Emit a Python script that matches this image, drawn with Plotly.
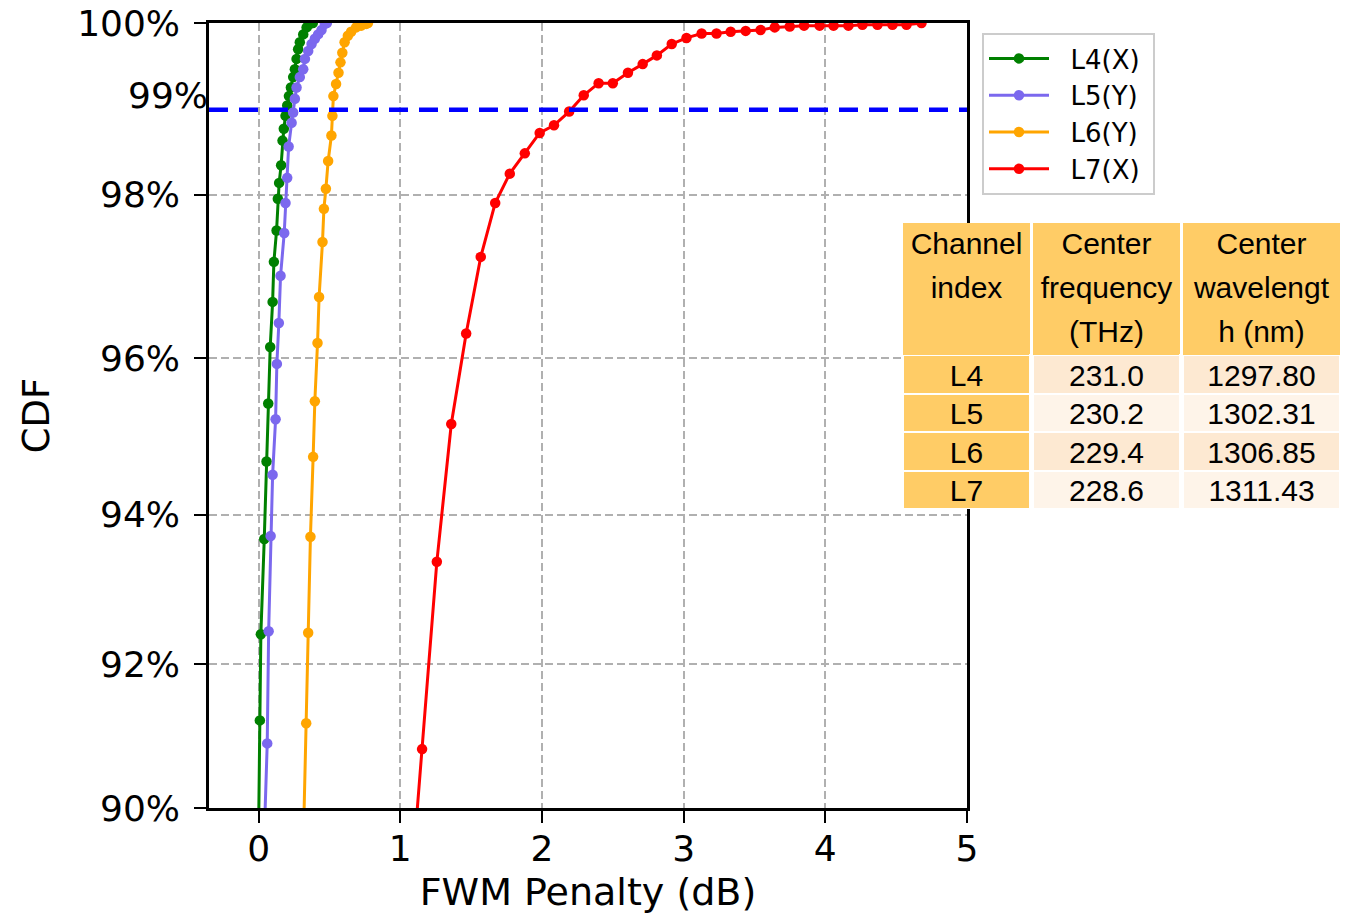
import math
import plotly.graph_objects as go

# ---------------- data ----------------
L4_x = [0.000, 0.009, 0.016, 0.040, 0.056, 0.068, 0.082, 0.099, 0.108, 0.127, 0.136, 0.145, 0.159, 0.169,
        0.178, 0.190, 0.202, 0.214, 0.228, 0.244, 0.256, 0.268, 0.279, 0.291, 0.315, 0.339, 0.362, 0.383]
L4_cdf = [89.68, 91.23, 92.41, 93.68, 94.69, 95.43, 96.14, 96.70, 97.19, 97.57, 97.95, 98.14, 98.35, 98.64,
          98.78, 98.93, 99.05, 99.16, 99.26, 99.38, 99.47, 99.59, 99.70, 99.78, 99.87, 99.95, 99.99, 100.0]

L5_x = [0.037, 0.061, 0.071, 0.085, 0.099, 0.120, 0.129, 0.143, 0.155, 0.181, 0.190, 0.202, 0.212, 0.233,
        0.244, 0.256, 0.268, 0.291, 0.315, 0.327, 0.350, 0.374, 0.397, 0.420, 0.444, 0.468, 0.482]
L5_cdf = [89.39, 90.91, 92.45, 93.72, 94.52, 95.23, 95.93, 96.44, 97.02, 97.54, 97.90, 98.20, 98.57, 98.85,
          98.97, 99.13, 99.26, 99.38, 99.47, 99.59, 99.68, 99.76, 99.82, 99.87, 99.92, 99.99, 100.0]

L6_x = [0.318, 0.336, 0.350, 0.366, 0.385, 0.397, 0.416, 0.427, 0.451, 0.461, 0.475, 0.491, 0.514, 0.521,
        0.528, 0.547, 0.564, 0.578, 0.591, 0.607, 0.630, 0.653, 0.688, 0.724, 0.759, 0.772]
L6_cdf = [89.68, 91.19, 92.43, 93.71, 94.75, 95.46, 96.19, 96.76, 97.43, 97.83, 98.07, 98.40, 98.70, 98.93,
          99.16, 99.30, 99.43, 99.55, 99.66, 99.78, 99.855, 99.90, 99.95, 99.97, 99.99, 100.0]

L7_x = [1.048, 1.154, 1.258, 1.360, 1.465, 1.568, 1.670, 1.773, 1.879, 1.984, 2.085, 2.192, 2.295, 2.400,
        2.500, 2.607, 2.711, 2.811, 2.916, 3.020, 3.127, 3.232, 3.332, 3.438, 3.543, 3.643, 3.749, 3.850,
        3.960, 4.058, 4.163, 4.262, 4.368, 4.474, 4.573, 4.679]
L7_cdf = [88.12, 90.83, 93.38, 95.17, 96.31, 97.25, 97.90, 98.25, 98.49, 98.73, 98.82, 98.98, 99.17, 99.31,
          99.31, 99.43, 99.53, 99.63, 99.76, 99.83, 99.88, 99.88, 99.90, 99.91, 99.92, 99.95, 99.96, 99.97,
          99.97, 99.97, 99.97, 99.98, 99.98, 99.98, 99.98, 100.0]

series_names = ["L4(X)", "L5(Y)", "L6(Y)", "L7(X)"]
series_colors = ["#008000", "#7B68EE", "#FFA500", "#FF0000"]

threshold_cdf = 99.0
y_ticks_cdf = [90, 92, 94, 96, 98, 100]
y_tick_text = ["90%", "92%", "94%", "96%", "98%", "100%"]
x_ticks = [0, 1, 2, 3, 4, 5]
x_range = [-0.35, 5.0]

header_channel = ["Channel", "index", ""]
header_freq = ["Center", "frequency", "(THz)"]
header_wavelength = ["Center", "wavelengt", "h (nm)"]
table_channel = ["L4", "L5", "L6", "L7"]
table_freq = ["231.0", "230.2", "229.4", "228.6"]
table_wavelength = ["1297.80", "1302.31", "1306.85", "1311.43"]

# The CDF axis is expanded towards 100 %: plotted on a reversed log scale of (140 - CDF)
OFFSET = 140.0


def to_axis(v):
    return OFFSET - v


FONT = "DejaVu Sans"
TFONT = "Liberation Sans, Arial"
ORANGE = "#FFCC66"
LIGHT1 = "#FDE9D2"
LIGHT2 = "#FEF4E9"
W, H = 1347, 914
ML, MR, MT, MB = 209, 7, 23, 106
paper_w = W - ML - MR
paper_h = H - MT - MB
x_dom_right = (967 - ML) / paper_w
NB = "\u00a0"

fig = go.Figure()

series = [(L4_x, L4_cdf), (L5_x, L5_cdf), (L6_x, L6_cdf), (L7_x, L7_cdf)]
for (xs, cs), name, col in zip(series, series_names, series_colors):
    fig.add_trace(go.Scatter(
        x=xs, y=[to_axis(c) for c in cs], name=NB * 2 + name + NB, mode="lines+markers",
        line=dict(color=col, width=3), marker=dict(color=col, size=10.5),
    ))

# 99 % threshold line
fig.add_trace(go.Scatter(
    x=x_range, y=[to_axis(threshold_cdf)] * 2, mode="lines", showlegend=False,
    line=dict(color="#0000FF", width=4.5, dash="19px,11px"), hoverinfo="skip",
))

blank_h = [""] * len(header_channel)
blank_c = [""] * len(table_channel)
light_col = [LIGHT1 if i % 2 == 0 else LIGHT2 for i in range(len(table_channel))]
fig.add_trace(go.Table(
    domain=dict(x=[(903 - ML) / paper_w, 1.0], y=[(808 - 510) / paper_h, (808 - 223) / paper_h]),
    columnwidth=[127, 3, 147, 3, 157],
    header=dict(values=[header_channel, blank_h, header_freq, blank_h, header_wavelength],
                fill_color=[ORANGE, "white", ORANGE, "white", ORANGE],
                line=dict(width=0),
                font=dict(family=TFONT, size=30, color="black"),
                align="center", height=44),
    cells=dict(values=[table_channel, blank_c, table_freq, blank_c, table_wavelength],
               fill_color=[[ORANGE] * 4, ["white"] * 4, light_col, ["white"] * 4, light_col],
               line=dict(color="white", width=2),
               font=dict(family=TFONT, size=30, color="black"),
               align="center", height=38.5),
))

fig.add_annotation(
    x=0, xref="paper", xanchor="right", xshift=1,
    y=math.log10(to_axis(threshold_cdf)), yref="y", yanchor="middle", yshift=14,
    text="99%", showarrow=False, font=dict(family=FONT, size=36, color="black"),
)

axis_common = dict(
    showline=True, linecolor="black", linewidth=2.5, mirror=True, automargin=False,
    ticks="outside", ticklen=12, tickwidth=2, tickcolor="black",
    showgrid=True, gridcolor="#b0b0b0", gridwidth=2, griddash="8px,4px",
    zeroline=False, tickfont=dict(family=FONT, size=36, color="black"),
)

fig.update_layout(
    template="none",
    width=W, height=H, autosize=False,
    margin=dict(l=ML, r=MR, t=MT, b=MB, pad=0),
    paper_bgcolor="white", plot_bgcolor="white",
    xaxis=dict(domain=[0, x_dom_right], range=x_range, tickvals=x_ticks, ticklabelstandoff=-5,
               title=dict(text="FWM Penalty (dB)", font=dict(family=FONT, size=38, color="black"), standoff=18),
               **axis_common),
    yaxis=dict(type="log", range=[math.log10(to_axis(90)), math.log10(to_axis(100))],
               tickvals=[to_axis(v) for v in y_ticks_cdf], ticktext=y_tick_text, ticklabelstandoff=7,
               title=dict(text="CDF", font=dict(family=FONT, size=37, color="black"), standoff=17),
               **axis_common),
    legend=dict(x=(982 - ML) / paper_w, y=(808 - 33) / paper_h, xanchor="left", yanchor="top",
                bgcolor="white", bordercolor="#cccccc", borderwidth=2,
                font=dict(family=FONT, size=26, color="black"), itemwidth=60),
    showlegend=True,
)

fig.write_html("out.html")
